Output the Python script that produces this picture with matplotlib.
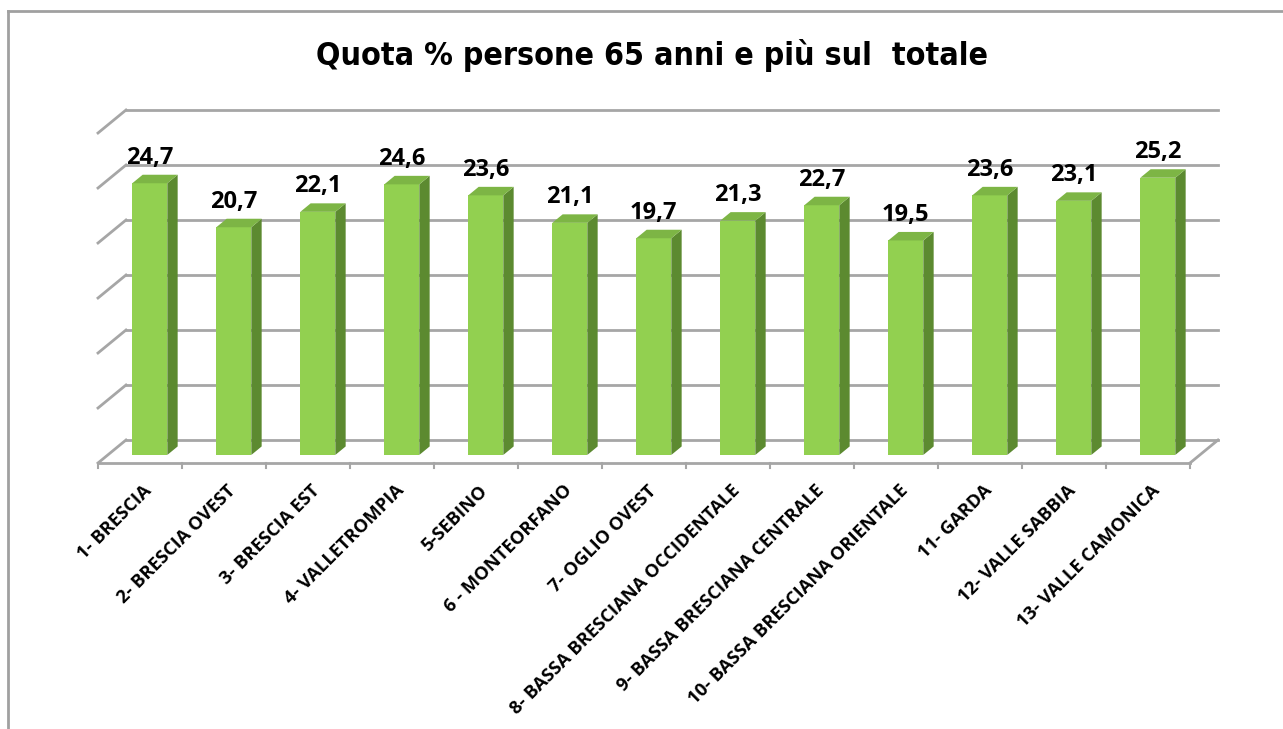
import matplotlib
matplotlib.use("Agg")
import matplotlib.pyplot as plt
from matplotlib.patches import Polygon
from matplotlib.lines import Line2D

categories = ['1- BRESCIA', '2- BRESCIA OVEST', '3- BRESCIA EST', '4- VALLETROMPIA',
              '5-SEBINO', '6 - MONTEORFANO', '7- OGLIO OVEST',
              '8- BASSA BRESCIANA OCCIDENTALE', '9- BASSA BRESCIANA CENTRALE',
              '10- BASSA BRESCIANA ORIENTALE', '11- GARDA', '12- VALLE SABBIA',
              '13- VALLE CAMONICA']
values = [24.7, 20.7, 22.1, 24.6, 23.6, 21.1, 19.7, 21.3, 22.7, 19.5, 23.6, 23.1, 25.2]
labels = ['24,7', '20,7', '22,1', '24,6', '23,6', '21,1', '19,7', '21,3', '22,7',
          '19,5', '23,6', '23,1', '25,2']
title = 'Quota % persone 65 anni e più sul  totale'
y_max = 30
y_step = 5

W, H = 1283, 729
fig = plt.figure(figsize=(W / 100, H / 100), dpi=100)
ax = fig.add_axes([0, 0, 1, 1])
ax.axis('off')

# one category = 84 px, one value unit = 11 px
px_x = 84.0
px_y = 11.0
x0_px, y0_px = 98, 463
ax.set_xlim(-0.5 - x0_px / px_x, -0.5 + (W - x0_px) / px_x)
ax.set_ylim((y0_px - H) / px_y, y0_px / px_y)

n = len(values)
# depth of the fake 3d box
dx = 28 / px_x
dy = 23 / px_y
grid_col = '#a6a6a6'

# back wall gridlines + left side diagonals
for k in range(0, y_max + 1, y_step):
    ax.plot([-0.5 + dx, n - 0.5 + dx], [k + dy, k + dy], color=grid_col, lw=2, zorder=1)
    ax.plot([-0.5, -0.5 + dx], [k, k + dy], color=grid_col, lw=2, zorder=1)
# floor
ax.plot([-0.5, n - 0.5], [0, 0], color=grid_col, lw=2, zorder=1)
ax.plot([n - 0.5, n - 0.5 + dx], [0, dy], color=grid_col, lw=2, zorder=1)
for i in range(n + 1):
    ax.plot([i - 0.5, i - 0.5], [0, -5 / px_y], color=grid_col, lw=1.5, zorder=1)

# bars
t0, t1 = 0.35, 0.72
bw = 35 / px_x
front_c = '#92d050'
side_c = '#5c8a30'
top_c = '#7db545'
for i, v in enumerate(values):
    xl = i - bw / 2 + t0 * dx
    xr = xl + bw
    yb = t0 * dy
    yt = v + t0 * dy
    ox = (t1 - t0) * dx
    oy = (t1 - t0) * dy
    ax.add_patch(Polygon([(xl, yb), (xr, yb), (xr, yt), (xl, yt)],
                         closed=True, fc=front_c, ec='none', zorder=3))
    ax.add_patch(Polygon([(xr, yb), (xr + ox, yb + oy), (xr + ox, yt + oy), (xr, yt)],
                         closed=True, fc=side_c, ec='none', zorder=3))
    ax.add_patch(Polygon([(xl, yt), (xr, yt), (xr + ox, yt + oy), (xl + ox, yt + oy)],
                         closed=True, fc=top_c, ec='none', zorder=3))
    ax.text((xl + xr) / 2, yt + oy + 5 / px_y, labels[i], ha='center', va='bottom',
            fontsize=17, fontweight='bold', family='Open Sans', zorder=4)

# category labels
for i, c in enumerate(categories):
    ax.text(i + 9 / px_x, -25 / px_y, c, rotation=45, rotation_mode='anchor',
            ha='right', va='center', fontsize=13.2, fontweight='bold',
            family='Open Sans')

fig.text(652 / W, 1 - 55 / H, title, ha='center', va='center', fontsize=23,
         fontweight='bold', family='DejaVu Sans', fontstretch='condensed')

# chart frame (right and bottom edges fall outside the picture)
fig.add_artist(Line2D([8 / W, 8 / W], [0, 1 - 11 / H], color='#a0a0a0', lw=2,
                      transform=fig.transFigure))
fig.add_artist(Line2D([8 / W, 1], [1 - 11 / H, 1 - 11 / H], color='#a0a0a0', lw=2,
                      transform=fig.transFigure))

fig.savefig('out.png', dpi=100)
